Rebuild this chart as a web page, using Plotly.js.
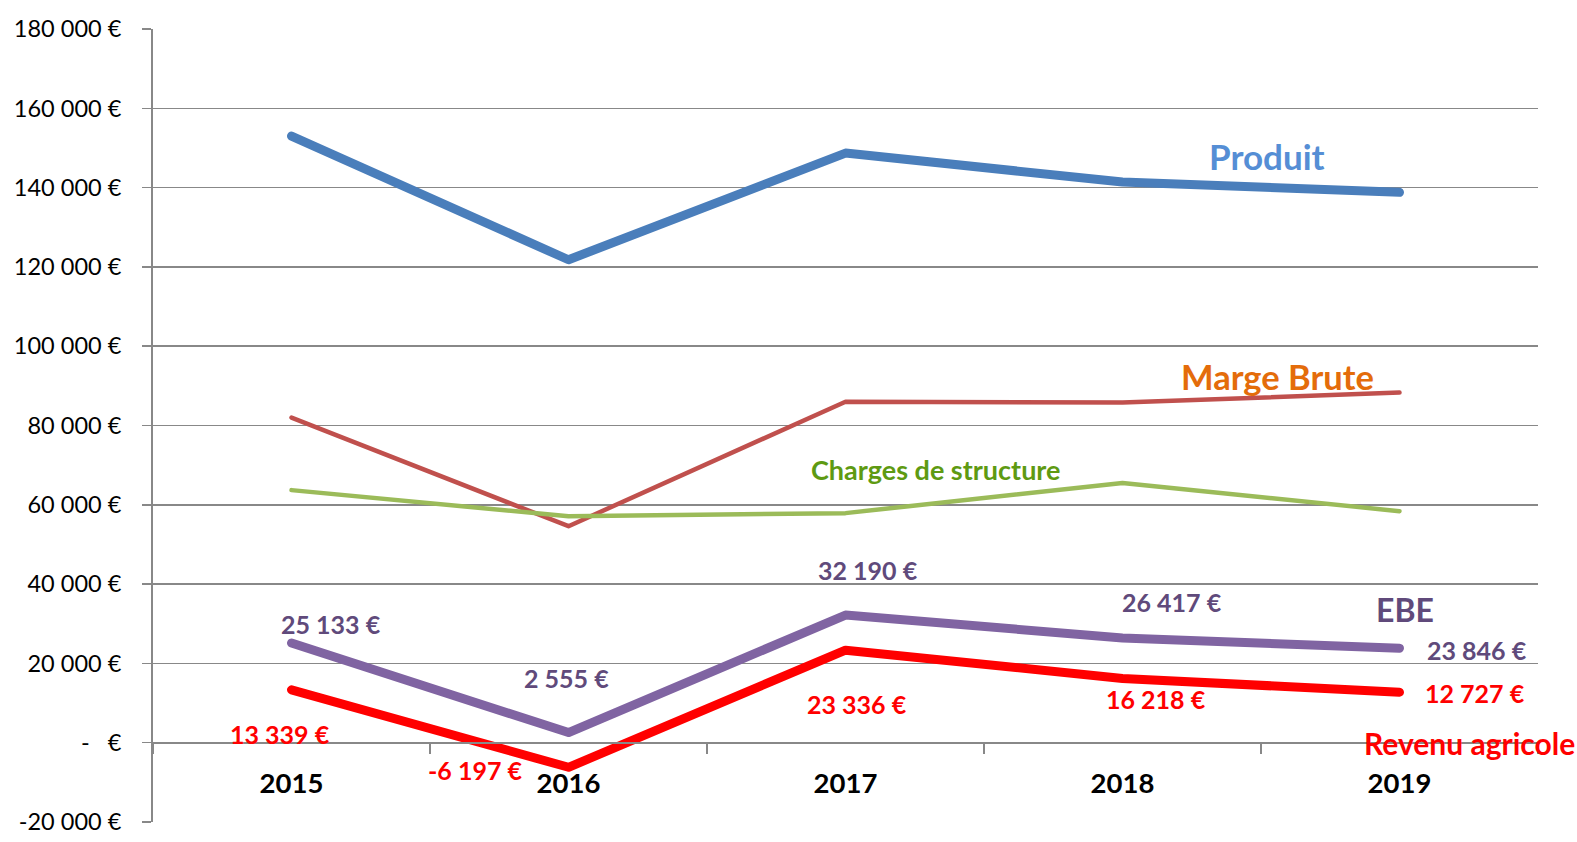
<!DOCTYPE html>
<html>
<head>
<meta charset="utf-8">
<script src="https://cdn.plot.ly/plotly-3.0.1.min.js"></script>
<style>html,body{margin:0;padding:0;background:#fff;}#chart{width:1577px;height:842px;}
#chart .scatterlayer path.js-line{stroke-linecap:round;stroke-linejoin:round;}</style>
</head>
<body>
<div id="chart"></div>
<script>
const years = ['2015', '2016', '2017', '2018', '2019'];
const produit = [153000, 121800, 148700, 141400, 138800];
const margeBrute = [82000, 54600, 86000, 85800, 88300];
const chargesStructure = [63700, 57100, 57900, 65500, 58400];
const ebe = [25133, 2555, 32190, 26417, 23846];
const revenuAgricole = [13339, -6197, 23336, 16218, 12727];
const yTickVals = [-20000, 0, 20000, 40000, 60000, 80000, 100000, 120000, 140000, 160000, 180000];
const yTickText = ['-20 000 €', '-   €', '20 000 €', '40 000 €', '60 000 €', '80 000 €', '100 000 €', '120 000 €', '140 000 €', '160 000 €', '180 000 €'];
const seriesNames = ['Produit', 'Marge Brute', 'Charges de structure', 'EBE', 'Revenu agricole'];

const FONT = 'Lato, "Open Sans", sans-serif';
function fmt(v) {
  const s = Math.abs(v).toString().replace(/\B(?=(\d{3})+(?!\d))/g, ' ');
  return (v < 0 ? '-' : '') + s + ' €';
}

const traces = [
  {x: years, y: produit, name: seriesNames[0], line: {color: '#4A7EBB', width: 9}},
  {x: years, y: margeBrute, name: seriesNames[1], line: {color: '#C0504D', width: 4.5}},
  {x: years, y: chargesStructure, name: seriesNames[2], line: {color: '#9BBB59', width: 4.5}},
  {x: years, y: ebe, name: seriesNames[3], line: {color: '#8064A2', width: 9}},
  {x: years, y: revenuAgricole, name: seriesNames[4], line: {color: '#FF0000', width: 9}}
].map(t => Object.assign({type: 'scatter', mode: 'lines', hoverinfo: 'skip', cliponaxis: false}, t));

// label offsets (pixels) relative to data points
const ebeShift = [[39, 19], [-2, 55], [22, 45], [49, 36], [77, -2]];
const revShift = [[-12, -44], [-94, -3], [11, -54], [33, -21], [75, -1]];

const annotations = [];
years.forEach((yr, i) => {
  annotations.push({x: i, y: ebe[i], xref: 'x', yref: 'y', text: fmt(ebe[i]), showarrow: false,
    xanchor: 'center', yanchor: 'middle',
    xshift: ebeShift[i][0], yshift: ebeShift[i][1], font: {family: FONT, size: 25, color: '#604A7B', weight: 'bold'}});
  annotations.push({x: i, y: revenuAgricole[i], xref: 'x', yref: 'y', text: fmt(revenuAgricole[i]), showarrow: false,
    xanchor: 'center', yanchor: 'middle',
    xshift: revShift[i][0], yshift: revShift[i][1], font: {family: FONT, size: 25, color: '#FF0000', weight: 'bold'}});
});
const nameLabels = [
  {text: seriesNames[0], x: 0.804, y: 0.840, size: 35, color: '#558ED5'},
  {text: seriesNames[1], x: 0.8116, y: 0.562, size: 34.5, color: '#E46C0A'},
  {text: seriesNames[2], x: 0.5651, y: 0.4442, size: 27, color: '#5E9A12'},
  {text: seriesNames[3], x: 0.904, y: 0.2678, size: 32, color: '#604A7B'},
  {text: seriesNames[4], x: 0.9504, y: 0.0993, size: 30, color: '#FF0000'}
];
nameLabels.forEach(n => annotations.push({xref: 'paper', yref: 'paper', x: n.x, y: n.y, text: n.text, showarrow: false,
  xanchor: 'center', yanchor: 'middle', font: {family: FONT, size: n.size, color: n.color, weight: 'bold'}}));

const layout = {
  width: 1577, height: 842,
  margin: {l: 153, r: 39, t: 29, b: 20},
  paper_bgcolor: '#fff', plot_bgcolor: '#fff',
  showlegend: false,
  font: {family: FONT, color: '#000'},
  xaxis: {
    type: 'category', range: [-0.5, 4.5], anchor: 'free', position: 0.1,
    showline: true, linecolor: '#888', linewidth: 2,
    ticks: 'outside', tickson: 'boundaries', ticklen: 10, tickcolor: '#888', tickwidth: 1.5,
    showgrid: false, zeroline: false, ticklabelstandoff: 16,
    tickfont: {family: FONT, size: 27.5, color: '#000', weight: 'bold'}
  },
  yaxis: {
    range: [-20000, 180000], tickvals: yTickVals, ticktext: yTickText,
    showgrid: true, gridcolor: '#888', gridwidth: 1.5, zeroline: false,
    showline: true, linecolor: '#888', linewidth: 2,
    ticks: 'outside', ticklen: 9, tickcolor: '#888', tickwidth: 1.5,
    ticklabelstandoff: 16,
    tickfont: {family: FONT, size: 23.5, color: '#000'}
  },
  annotations: annotations
};

Plotly.newPlot('chart', traces, layout, {displayModeBar: false, staticPlot: true});
</script>
</body>
</html>
